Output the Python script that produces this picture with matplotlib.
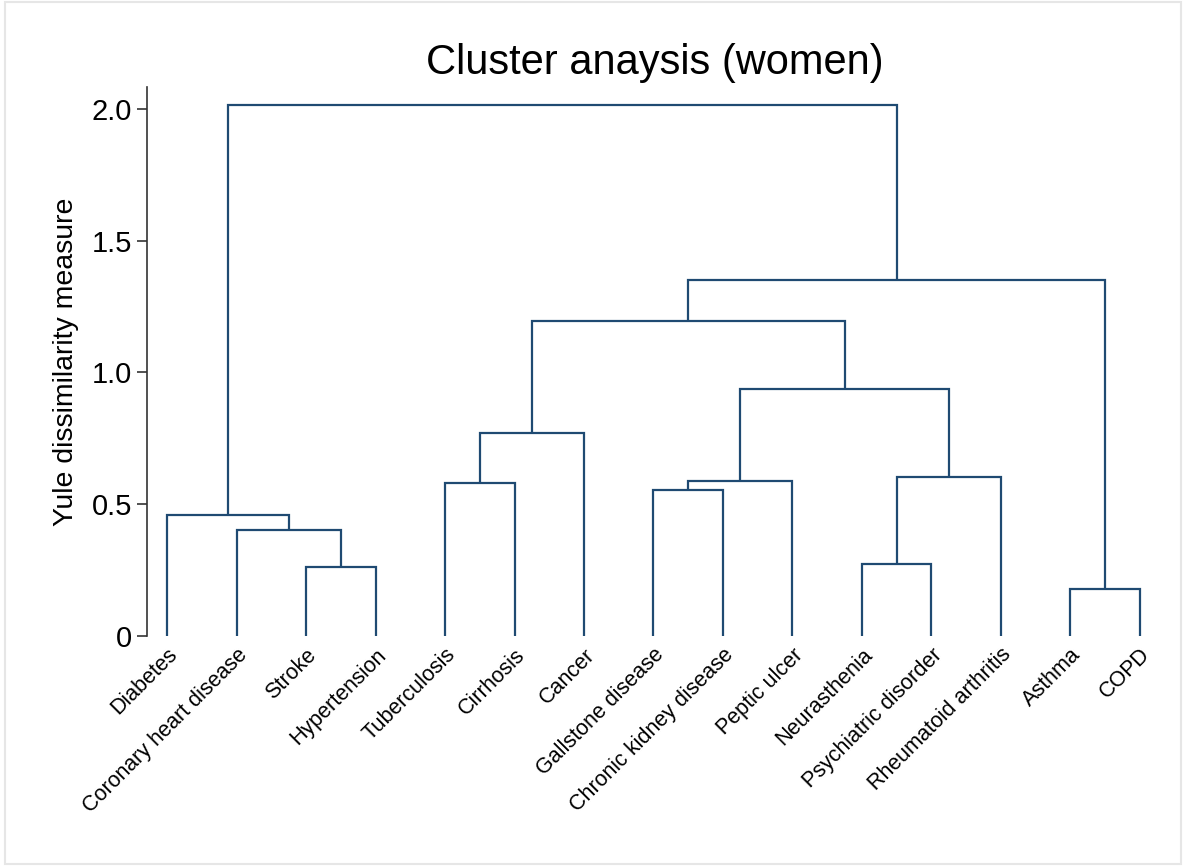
import matplotlib
matplotlib.use("Agg")
import matplotlib.pyplot as plt
from matplotlib.patches import Rectangle

plt.rcParams['font.family'] = ['Liberation Sans', 'DejaVu Sans']

leaves = ["Diabetes", "Coronary heart disease", "Stroke", "Hypertension",
          "Tuberculosis", "Cirrhosis", "Cancer", "Gallstone disease",
          "Chronic kidney disease", "Peptic ulcer", "Neurasthenia",
          "Psychiatric disorder", "Rheumatoid arthritis", "Asthma", "COPD"]

# merges: (left node, right node, height); nodes 0..n-1 are leaves, then new clusters
merge_left = [2, 1, 0, 4, 18, 7, 20, 10, 22, 21, 19, 13, 25, 17]
merge_right = [3, 15, 16, 5, 6, 8, 9, 11, 12, 23, 24, 14, 26, 27]
merge_height = [0.262, 0.402, 0.459, 0.581, 0.770, 0.554, 0.588, 0.273,
                0.603, 0.937, 1.195, 0.178, 1.351, 2.015]

n = len(leaves)
yticks = [0, 0.5, 1.0, 1.5, 2.0]
ytick_labels = ["0", "0.5", "1.0", "1.5", "2.0"]

fig = plt.figure(figsize=(11.86, 8.66), dpi=100)
fig.patches.append(Rectangle((0.004, 0.002), 0.992, 0.996, transform=fig.transFigure,
                             fill=False, edgecolor="#e6e6e6", linewidth=1.5))
ax = fig.add_axes([0.124, 0.2656, 0.854, 0.634])

color = "#1f4a72"
xpos = {i: float(i) for i in range(n)}
ypos = {i: 0.0 for i in range(n)}
node = n
for a, b, h in zip(merge_left, merge_right, merge_height):
    xa, xb = xpos[a], xpos[b]
    ax.plot([xa, xa, xb, xb], [ypos[a], h, h, ypos[b]], color=color, lw=1.6,
            solid_joinstyle="miter", solid_capstyle="butt")
    xpos[node] = (xa + xb) / 2
    ypos[node] = h
    node += 1

ax.set_xlim(-0.29, n - 1 + 0.29)
ax.set_ylim(0, 2.083)
for s in ["top", "right", "bottom"]:
    ax.spines[s].set_visible(False)
ax.spines["left"].set_color("#333333")
ax.spines["left"].set_linewidth(1.2)
ax.set_yticks(yticks)
ax.set_yticklabels(ytick_labels, fontsize=21)
ax.tick_params(axis="y", length=7, width=1.2, color="#333333", pad=4)
ax.set_xticks(range(n))
ax.set_xticklabels(leaves, rotation=45, ha="right", va="top",
                   rotation_mode="anchor", fontsize=15.5)
ax.tick_params(axis="x", length=0, pad=6)
ax.set_ylabel("Yule dissimilarity measure", fontsize=20.5, labelpad=9)
fig.text(0.552, 0.9145, "Cluster anaysis (women)", ha="center", va="baseline", fontsize=30)

fig.savefig("out.png", dpi=100)
